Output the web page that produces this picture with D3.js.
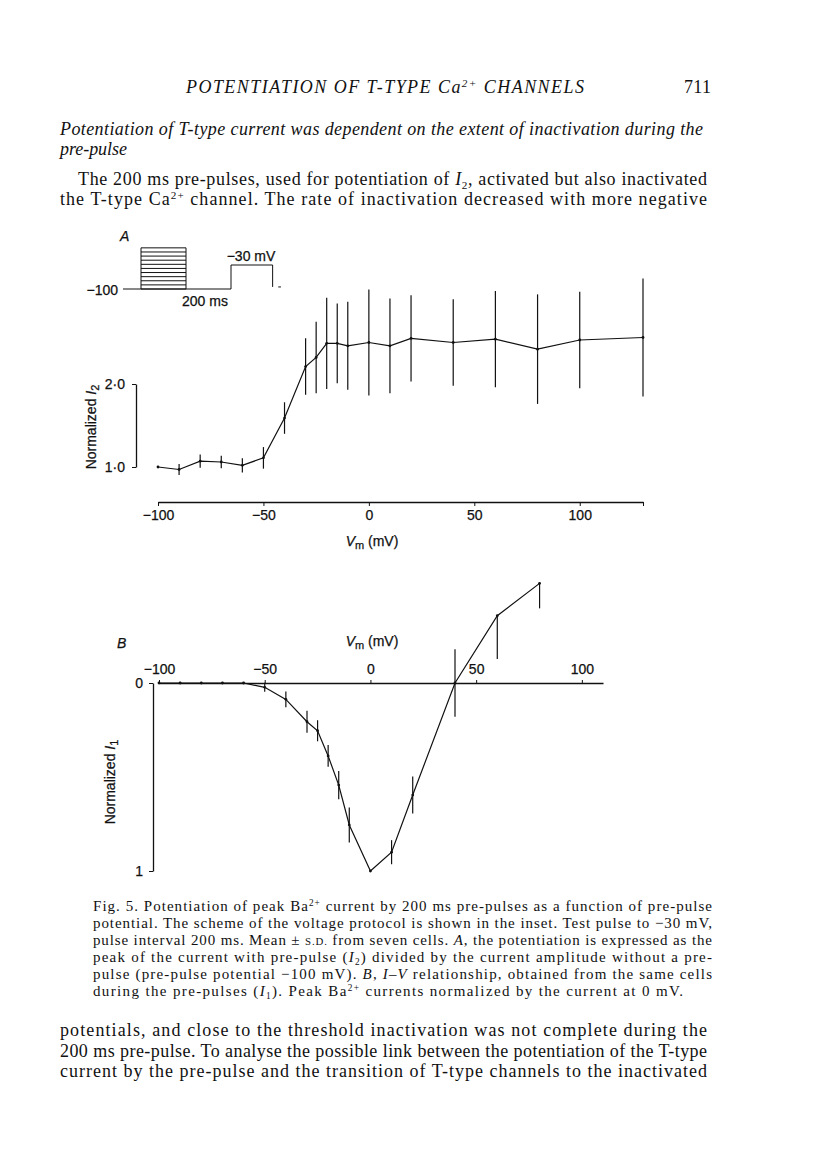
<!DOCTYPE html>
<meta charset="utf-8">
<style>
html, body { margin: 0; background: #fff; overflow: hidden; }
.serif { font-family: "Liberation Serif", "Times New Roman", serif; fill: #111; }
.sans { font-family: "Liberation Sans", Arial, sans-serif; fill: #111; stroke: #111; stroke-width: 0.25; }
.axis path, .axis line { stroke: #111; }
</style>
<body>
<script src="https://d3js.org/d3.v7.min.js"></script>
<script>

var width = 816, height = 1163;

// panel A: potentiation (I2) vs pre-pulse potential
var vA = [-100, -90, -80, -70, -60, -50, -40, -30, -25, -20, -15, -10, 0, 10, 20, 40, 60, 80, 100, 130];
var iA = [1.00, 0.97, 1.07, 1.06, 1.02, 1.11, 1.59, 2.21, 2.32, 2.49, 2.49, 2.46, 2.50, 2.46, 2.55, 2.50, 2.54, 2.42, 2.53, 2.56];
var sdA = [0, 0.065, 0.08, 0.075, 0.085, 0.13, 0.19, 0.34, 0.43, 0.55, 0.48, 0.53, 0.64, 0.57, 0.52, 0.52, 0.58, 0.66, 0.58, 0.71];

// panel B: I-V relationship (I1), normalized, downward = inward current
var vB = [-100, -90, -80, -70, -60, -50, -40, -30, -25, -20, -15, -10, 0, 10, 20, 40, 60, 80];
var iB = [0, 0, 0, 0, 0, 0.023, 0.087, 0.206, 0.254, 0.388, 0.543, 0.755, 1.0, 0.90, 0.596, 0, -0.358, -0.53];
var sdB = [0, 0, 0, 0, 0, 0.024, 0.042, 0.058, 0.056, 0.058, 0.075, 0.093, 0, 0.064, 0.098, 0.18, 0.23, 0.133];
var sideB = ["both", "both", "both", "both", "both", "both", "both", "both", "both", "both", "both", "both", "both", "both", "both", "both", "down", "down"];

var ticksA = [-100, -50, 0, 50, 100, 130];
var ticksB = [-100, -50, 0, 50, 100];

// inset: voltage protocol
var prePulseLevels = [-100, -88, -76, -64, -52, -40, -28, -16, -4, 8, 20];
var protoTimes = [-80, 0, 200, 400, 585];
var testLevel = -30, holdLevel = -100;

var headerLines = [
  "*Potentiation of T-type current was dependent on the extent of inactivation during the*",
  "*pre-pulse*"
];
var bodyTop = [
  "The 200 ms pre-pulses, used for potentiation of *I*_{2}, activated but also inactivated",
  "the T-type Ca^{2+} channel. The rate of inactivation decreased with more negative"
];
var caption = [
  "Fig. 5. Potentiation of peak Ba^{2+} current by 200 ms pre-pulses as a function of pre-pulse",
  "potential. The scheme of the voltage protocol is shown in the inset. Test pulse to \u221230 mV,",
  "pulse interval 200 ms. Mean \u00b1 ~{s.d.} from seven cells. *A*, the potentiation is expressed as the",
  "peak of the current with pre-pulse (*I*_{2}) divided by the current amplitude without a pre-",
  "pulse (pre-pulse potential \u2212100 mV). *B*, *I\u2013V* relationship, obtained from the same cells",
  "during the pre-pulses (*I*_{1}). Peak Ba^{2+} currents normalized by the current at 0 mV."
];
var bodyBottom = [
  "potentials, and close to the threshold inactivation was not complete during the",
  "200 ms pre-pulse. To analyse the possible link between the potentiation of the T-type",
  "current by the pre-pulse and the transition of T-type channels to the inactivated"
];

var svg = d3.select("body").append("svg")
  .attr("width", width)
  .attr("height", height);

svg.append("rect").attr("width", width).attr("height", height).attr("fill", "#fff");

// tiny markup: *italic*, ^{sup}, _{sub}, ~{small caps}
function rich(sel, str, fs) {
  var parts = str.split(/(\^\{[^}]*\}|_\{[^}]*\}|~\{[^}]*\}|\*[^*]*\*)/);
  var back = 0;
  parts.forEach(function(p) {
    if (!p) return;
    var t = sel.append("tspan");
    if (p[0] == "^") {
      t.text(p.slice(2, -1)).attr("font-size", fs * 0.62).attr("dy", back - fs * 0.36);
      back = fs * 0.36;
    } else if (p[0] == "_") {
      t.text(p.slice(2, -1)).attr("font-size", fs * 0.62).attr("dy", back + fs * 0.22);
      back = -fs * 0.22;
    } else if (p[0] == "~") {
      t.text(p.slice(2, -1).toUpperCase()).attr("font-size", fs * 0.72).attr("dy", back);
      back = 0;
    } else if (p[0] == "*") {
      t.text(p.slice(1, -1)).attr("font-style", "italic").attr("dy", back);
      back = 0;
    } else {
      t.text(p).attr("dy", back);
      back = 0;
    }
  });
  return sel;
}

function textLine(str, x, y, fs, len, extra) {
  var t = svg.append("text")
    .attr("class", "serif")
    .attr("x", x)
    .attr("y", y)
    .attr("font-size", fs);
  if (len) t.attr("textLength", len).attr("lengthAdjust", "spacing");
  if (extra) t.attr("font-style", extra);
  rich(t, str, fs);
  return t;
}

// running head
textLine("POTENTIATION OF T-TYPE Ca^{2+} CHANNELS", 186, 93, 18, 398, "italic");
textLine("711", 684, 93, 18, 27);

textLine(headerLines[0], 60, 135, 18, 643);
textLine(headerLines[1], 60, 155, 18, 67);
textLine(bodyTop[0], 78, 185, 18, 629);
textLine(bodyTop[1], 60, 205, 18, 647);

caption.forEach(function(l, i) {
  textLine(l, 93, 911 + i * 17, 15, i < 5 ? 619 : 590);
});
bodyBottom.forEach(function(l, i) {
  textLine(l, 60, 1036 + i * 20.5, 18, 647);
});

function styleTicks(g) {
  g.selectAll("text").attr("font-size", 14).attr("fill", "#111")
    .attr("stroke", "#111").attr("stroke-width", 0.25)
    .attr("font-family", "Liberation Sans, Arial, sans-serif");
}

// ---------- panel A ----------
var xA = d3.scaleLinear().domain([-100, 130]).range([158, 643]);
var yA = d3.scaleLinear().domain([1, 2]).range([467, 384]);

var gxA = svg.append("g").attr("class", "axis")
  .attr("transform", "translate(0,502)")
  .call(d3.axisBottom(xA).tickValues(ticksA).tickSize(4).tickSizeOuter(0).tickPadding(4)
    .tickFormat(function(d) { return d == 130 ? "" : d3.format("d")(d); }));
gxA.select(".domain").attr("stroke-width", 1.6);
styleTicks(gxA);

var gyA = svg.append("g").attr("class", "axis")
  .attr("transform", "translate(136,0)")
  .call(d3.axisLeft(yA).tickValues([1, 2]).tickSize(4).tickSizeOuter(0).tickPadding(7)
    .tickFormat(function(d) { return d.toFixed(1).replace(".", "\u00b7"); }));
gyA.select(".domain").attr("stroke-width", 1.3);
styleTicks(gyA);

var dataA = vA.map(function(v, i) { return {v: v, y: iA[i], sd: sdA[i]}; });

svg.append("path")
  .datum(dataA)
  .attr("fill", "none")
  .attr("stroke", "#111")
  .attr("stroke-width", 1.2)
  .attr("d", d3.line().x(function(d) { return xA(d.v); }).y(function(d) { return yA(d.y); }));

svg.selectAll(".barA")
  .data(dataA.filter(function(d) { return d.sd > 0; }))
  .enter().append("line")
  .attr("class", "barA")
  .attr("x1", function(d) { return xA(d.v); })
  .attr("x2", function(d) { return xA(d.v); })
  .attr("y1", function(d) { return yA(d.y - d.sd); })
  .attr("y2", function(d) { return yA(d.y + d.sd); })
  .attr("stroke", "#111")
  .attr("stroke-width", 1.2);

svg.selectAll(".dotA")
  .data(dataA)
  .enter().append("circle")
  .attr("cx", function(d) { return xA(d.v); })
  .attr("cy", function(d) { return yA(d.y); })
  .attr("r", 1.4)
  .attr("fill", "#111");

var labA = svg.append("text").attr("class", "sans")
  .attr("x", 372).attr("y", 546).attr("font-size", 14).attr("text-anchor", "middle");
labA.append("tspan").attr("font-style", "italic").text("V");
labA.append("tspan").attr("font-size", 11).attr("dy", 3).text("m");
labA.append("tspan").attr("dy", -3).text(" (mV)");

var ylabA = svg.append("text").attr("class", "sans")
  .attr("transform", "translate(96,427) rotate(-90)")
  .attr("font-size", 14).attr("text-anchor", "middle");
ylabA.append("tspan").text("Normalized ");
ylabA.append("tspan").attr("font-style", "italic").text("I");
ylabA.append("tspan").attr("font-size", 11).attr("dy", 3).text("2");

// inset
var tS = d3.scaleLinear().domain([0, 200]).range([141, 186]);
var vS = d3.scaleLinear().domain([-100, -30]).range([289, 265]);

svg.append("text").attr("class", "sans").attr("x", 120).attr("y", 241)
  .attr("font-size", 14).attr("font-style", "italic").text("A");

var inset = svg.append("g").attr("stroke", "#111").attr("fill", "none").attr("stroke-width", 1);
inset.selectAll("line.pre")
  .data(prePulseLevels)
  .enter().append("line")
  .attr("x1", tS(protoTimes[1])).attr("x2", tS(protoTimes[2]))
  .attr("y1", function(d) { return vS(d); })
  .attr("y2", function(d) { return vS(d); });
inset.append("path").attr("d",
  "M" + tS(protoTimes[1]) + "," + vS(holdLevel) + "V" + vS(prePulseLevels[prePulseLevels.length - 1]) +
  "M" + tS(protoTimes[2]) + "," + vS(holdLevel) + "V" + vS(prePulseLevels[prePulseLevels.length - 1]));
inset.append("path").attr("d",
  "M" + tS(protoTimes[0]) + "," + vS(holdLevel) + "H" + tS(protoTimes[3]) +
  "V" + vS(testLevel) + "H" + tS(protoTimes[4]) + "V" + vS(-94) +
  "M" + tS(610) + "," + vS(-94) + "H" + tS(622));

svg.append("text").attr("class", "sans").attr("x", 118).attr("y", 295)
  .attr("font-size", 14).attr("text-anchor", "end").text("\u2212100");
svg.append("text").attr("class", "sans").attr("x", 251).attr("y", 261)
  .attr("font-size", 14).attr("text-anchor", "middle").text("\u221230 mV");
svg.append("text").attr("class", "sans").attr("x", 205).attr("y", 306)
  .attr("font-size", 14).attr("text-anchor", "middle").text("200 ms");

// ---------- panel B ----------
var xB = d3.scaleLinear().domain([-100, 110]).range([159, 603]);
var yB = d3.scaleLinear().domain([0, 1]).range([683, 871]);

var gxB = svg.append("g").attr("class", "axis")
  .attr("transform", "translate(0,683)")
  .call(d3.axisTop(xB).tickValues(ticksB).tickSize(3).tickSizeOuter(0).tickPadding(6));
gxB.select(".domain").attr("stroke-width", 1.5);
styleTicks(gxB);

var gyB = svg.append("g").attr("class", "axis")
  .attr("transform", "translate(153,0)")
  .call(d3.axisLeft(yB).tickValues([0, 1]).tickSize(4).tickSizeOuter(0).tickPadding(6)
    .tickFormat(d3.format("d")));
gyB.select(".domain").attr("stroke-width", 1.3);
styleTicks(gyB);

var dataB = vB.map(function(v, i) { return {v: v, y: iB[i], sd: sdB[i], side: sideB[i]}; });

svg.append("path")
  .datum(dataB)
  .attr("fill", "none")
  .attr("stroke", "#111")
  .attr("stroke-width", 1.2)
  .attr("d", d3.line().x(function(d) { return xB(d.v); }).y(function(d) { return yB(d.y); }));

svg.selectAll(".barB")
  .data(dataB.filter(function(d) { return d.sd > 0; }))
  .enter().append("line")
  .attr("class", "barB")
  .attr("x1", function(d) { return xB(d.v); })
  .attr("x2", function(d) { return xB(d.v); })
  .attr("y1", function(d) { return yB(d.side == "down" ? d.y : d.y - d.sd); })
  .attr("y2", function(d) { return yB(d.y + d.sd); })
  .attr("stroke", "#111")
  .attr("stroke-width", 1.2);

svg.selectAll(".dotB")
  .data(dataB)
  .enter().append("circle")
  .attr("cx", function(d) { return xB(d.v); })
  .attr("cy", function(d) { return yB(d.y); })
  .attr("r", 1.4)
  .attr("fill", "#111");

svg.append("text").attr("class", "sans").attr("x", 117).attr("y", 648)
  .attr("font-size", 14).attr("font-style", "italic").text("B");

var labB = svg.append("text").attr("class", "sans")
  .attr("x", 372).attr("y", 646).attr("font-size", 14).attr("text-anchor", "middle");
labB.append("tspan").attr("font-style", "italic").text("V");
labB.append("tspan").attr("font-size", 11).attr("dy", 3).text("m");
labB.append("tspan").attr("dy", -3).text(" (mV)");

var ylabB = svg.append("text").attr("class", "sans")
  .attr("transform", "translate(115,782) rotate(-90)")
  .attr("font-size", 14).attr("text-anchor", "middle");
ylabB.append("tspan").text("Normalized ");
ylabB.append("tspan").attr("font-style", "italic").text("I");
ylabB.append("tspan").attr("font-size", 11).attr("dy", 3).text("1");

</script>
